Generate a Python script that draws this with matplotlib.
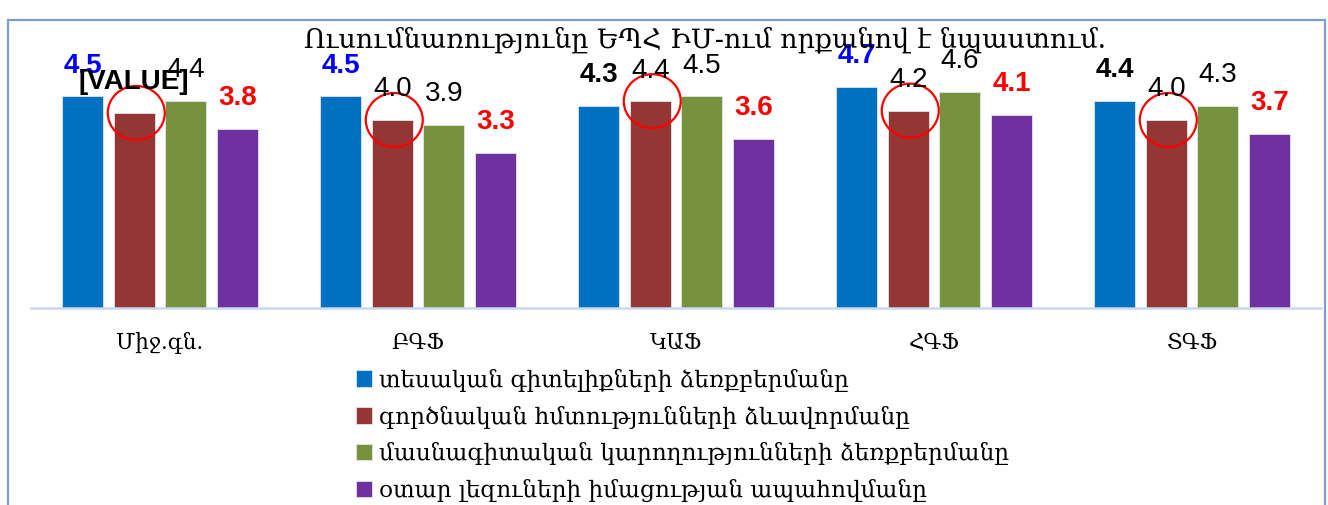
import matplotlib.pyplot as plt
from matplotlib.patches import Ellipse, Rectangle
import numpy as np

categories = ['Միջ.գն.', 'ԲԳՖ', 'ԿԱՖ', 'ՀԳՖ', 'ՏԳՖ']
series_names = ['տեսական գիտելիքների ձեռքբերմանը',
                'գործնական հմտությունների ձևավորմանը',
                'մասնագիտական կարողությունների ձեռքբերմանը',
                'օտար լեզուների իմացության ապահովմանը']
theory = [4.5, 4.5, 4.3, 4.7, 4.4]
practical = [4.15, 4.0, 4.4, 4.2, 4.0]
professional = [4.4, 3.9, 4.5, 4.6, 4.3]
languages = [3.8, 3.3, 3.6, 4.1, 3.7]
practical_labels = ['[VALUE]', '4.0', '4.4', '4.2', '4.0']
theory_label_colors = ['#0000ff', '#0000ff', 'black', '#0000ff', 'black']

colors = ['#0070c0', '#943634', '#76923c', '#7030a0']
serif = ['DejaVu Serif', 'DejaVu Sans']
narrow = ['Liberation Sans', 'DejaVu Sans']

fig = plt.figure(figsize=(13.28, 5.05), dpi=100)
ax = fig.add_axes([31 / 1328, 197 / 505, 1290 / 1328, 235 / 505])

x = np.arange(len(categories))
offsets = [-0.3, -0.1, 0.1, 0.3]
width = 0.159
data = [theory, practical, professional, languages]

for i, vals in enumerate(data):
    ax.bar(x + offsets[i], vals, width, color=colors[i], edgecolor='#dfe6ef',
           linewidth=0.6, label=series_names[i], zorder=2)

# value labels, ~31 px above each bar
lab_kw = dict(textcoords='offset points', ha='center', va='center', fontsize=20, family=narrow)
for j in range(len(categories)):
    ax.annotate(f'{theory[j]:.1f}', (x[j] + offsets[0], theory[j]), xytext=(0, 22.3),
                fontweight='bold', color=theory_label_colors[j], **lab_kw)
    bold = practical_labels[j] == '[VALUE]'
    ax.annotate(practical_labels[j], (x[j] + offsets[1], practical[j]), xytext=(0, 22),
                fontweight='bold' if bold else 'normal', color='black', zorder=5, **lab_kw)
    ax.annotate(f'{professional[j]:.1f}', (x[j] + offsets[2], professional[j]), xytext=(0, 22.3),
                color='black', **lab_kw)
    ax.annotate(f'{languages[j]:.1f}', (x[j] + offsets[3], languages[j]), xytext=(0, 22.5),
                fontweight='bold', color='red', **lab_kw)
    # red circles on the practical bars
    ax.add_patch(Ellipse((x[j] + offsets[1] + 0.008, practical[j]), 57 / 258, 54 / 47,
                         fill=False, edgecolor='red', linewidth=1.6, zorder=4, clip_on=False))

ax.set_xlim(-0.5, len(categories) - 0.5)
ax.set_ylim(0, 5)
ax.set_yticks([])
ax.set_xticks(x)
ax.set_xticklabels(categories, family=serif, fontsize=15.5)
ax.tick_params(axis='x', length=0, pad=17)
for s in ['top', 'right', 'left']:
    ax.spines[s].set_visible(False)
ax.spines['bottom'].set_color('#c9d9ee')
ax.spines['bottom'].set_linewidth(1.8)

fig.text(0.531, 0.921, 'Ուսումնառությունը ԵՊՀ ԻՄ-ում որքանով է նպաստում.',
         ha='center', va='center', fontsize=19.4, family=serif)

fig.legend(loc='upper left', bbox_to_anchor=(344 / 1328, 1 - 357 / 505), frameon=False,
           prop={'family': serif, 'size': 16.7}, handlelength=0.7, handleheight=0.7,
           handletextpad=0.3, labelspacing=0.6, borderpad=0)

fig.add_artist(Rectangle((8 / 1328, -0.05), 1317 / 1328, 1.03 - 10 / 505,
                         transform=fig.transFigure, fill=False, edgecolor='#7e9cce',
                         linewidth=1.6))

fig.savefig('out.png', dpi=100)
